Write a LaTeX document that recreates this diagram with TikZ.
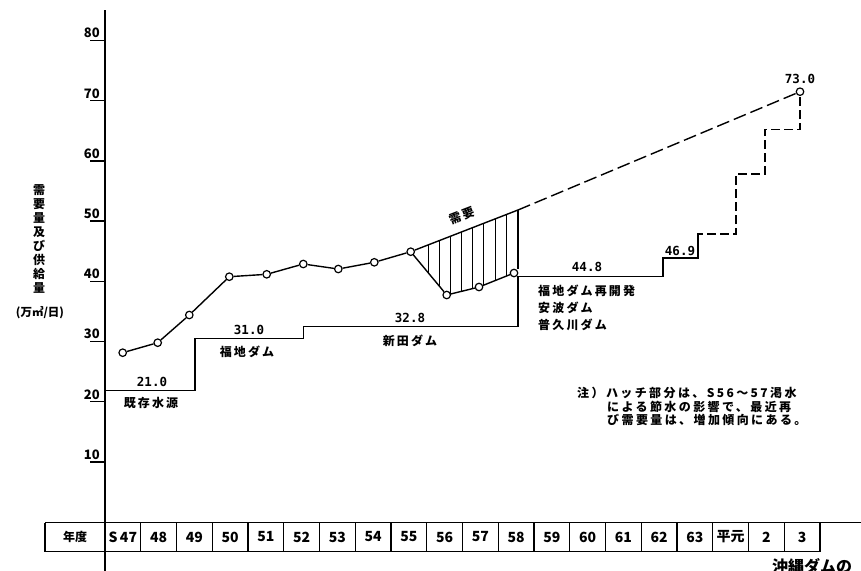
\documentclass[tikz,border=0pt]{standalone}
\usepackage{fontspec}
\setmainfont{Noto Sans CJK JP}
\newfontfamily\jp{Noto Sans CJK JP}
\newfontfamily\mono{DejaVu Sans Mono}
\begin{document}
\begin{tikzpicture}[x=1pt,y=-1pt,
  ln/.style={line width=1.4pt},
  dot/.style={circle,draw,fill=white,line width=1.2pt,inner sep=0pt,minimum size=7.5pt},
  val/.style={font=\mono\bfseries\fontsize{12.5}{13}\selectfont,inner sep=0pt},
  jlab/.style={font=\jp\bfseries\fontsize{12}{17}\selectfont\addfontfeature{LetterSpace=18},inner sep=0pt},
  note/.style={font=\jp\bfseries\fontsize{12}{13}\selectfont\addfontfeature{LetterSpace=20},inner sep=0pt,anchor=west},
  ytick/.style={font=\bfseries\fontsize{13}{13}\selectfont,inner sep=0pt,anchor=base east},
  yr/.style={font=\bfseries\fontsize{14}{14}\selectfont,inner sep=0pt},
  dstep/.style={line width=1.5pt,dash pattern=on 9pt off 4pt},
  ddem/.style={line width=1.4pt,dash pattern=on 13pt off 5pt}]
\fill[white] (0,0) rectangle (861,570);
\useasboundingbox (0,0) rectangle (861,570);

% axis and ticks
\draw[line width=2pt] (105,10) -- (105,575);
\foreach \v in {10,20,...,80}{
  \pgfmathsetmacro\yy{522-6.02*\v}
  \draw[line width=1.4pt] (90,\yy) -- (105,\yy);
  \node[ytick] (yl\v) at (100,\yy-2.5) {\v};
}

% y-axis title
\node[font=\jp\bfseries\fontsize{12}{14}\selectfont,align=center,inner sep=0pt] (ytitle) at (39,239)
  {需\\要\\量\\及\\び\\供\\給\\量};
\node[font=\jp\bfseries\fontsize{11.5}{12}\selectfont,inner sep=0pt] (yunit) at (40,313) {(万㎥/日)};

% table
\draw[line width=1.4pt] (45,522.7) -- (861,522.7);
\draw[line width=1.4pt] (45,551.7) -- (820,551.7);
\draw[line width=1.4pt] (45,522.7) -- (45,551.7);
\foreach \i in {1,...,20}{
  \pgfmathsetmacro\xx{105+35.75*\i}
  \draw[line width=1.4pt] (\xx,522.7) -- (\xx,551.7);
}
\node[font=\jp\bfseries\fontsize{12}{12}\selectfont,inner sep=0pt] (nendo) at (75,537) {年度};
\foreach \t [count=\i from 0] in {S\,47,48,49,50,51,52,53,54,55,56,57,58,59,60,61,62,63,平元,2,3}{
  \pgfmathsetmacro\xx{105+35.75*(\i+0.5)}
  \node[yr] (yr\i) at (\xx,537) {\t};
}
\node[font=\jp\bfseries\fontsize{16}{16}\selectfont,inner sep=0pt,anchor=north west] (okinawa) at (772,558) {沖縄ダムの};

% demand points
\node[dot] (d47) at (122.7,352.7) {};
\node[dot] (d48) at (157.7,342.7) {};
\node[dot] (d49) at (189.3,315) {};
\node[dot] (d50) at (229.3,276.7) {};
\node[dot] (d51) at (266.7,274.3) {};
\node[dot] (d52) at (303.3,264) {};
\node[dot] (d53) at (338.3,269) {};
\node[dot] (d54) at (374.3,262.3) {};
\node[dot] (d55) at (410.7,251.7) {};
\node[dot] (d56) at (446.7,295) {};
\node[dot] (d57) at (479,287) {};
\node[dot] (d58) at (514,273) {};
\node[dot] (d3) at (800,91.7) {};
\coordinate (ht) at (518,210);

% hatch
\begin{scope}
  \clip (d55.center) -- (ht) -- (518,273) -- (d58.center) -- (d57.center) -- (d56.center) -- cycle;
  \foreach \x in {428,439,450,461,472,483,495,506}
    \draw[line width=1pt] (\x,200) -- (\x,300);
\end{scope}
\draw[ln] (ht) -- (518,269);

% supply steps
\coordinate (s1) at (105,390.7);
\coordinate (s2) at (195,390.7);
\coordinate (s3) at (195,338.3);
\coordinate (s4) at (303.3,338.3);
\coordinate (s5) at (303.3,326.7);
\coordinate (s6) at (518,326.7);
\coordinate (s7) at (518,276.7);
\coordinate (s8) at (663,276.7);
\coordinate (s9) at (663,258);
\coordinate (s10) at (698,258);
\coordinate (s11) at (698,238);
\draw[ln] (s1) -- (s2) -- (s3) -- (s4) -- (s5) -- (s6) -- (s7) -- (s8) -- (s9) -- (s10) -- (s11);
\coordinate (f1) at (698,234);
\coordinate (f2) at (736,234);
\coordinate (f3) at (736,174);
\coordinate (f4) at (765,174);
\coordinate (f5) at (765,129.3);
\coordinate (f6) at (800,129.3);
\draw[dstep] (s11) -- (f1) -- (f2) -- (f3) -- (f4) -- (f5) -- (f6) -- (d3);

% demand line
\draw[ln] (d47) -- (d48) -- (d49) -- (d50) -- (d51) -- (d52) -- (d53) -- (d54) -- (d55);
\draw[ln] (d55) -- (d56) -- (d57) -- (d58);
\draw[ln] (d55) -- (ht);
\draw[ddem] (ht) -- (d3);

% labels
\node[val] (v21) at (152,382) {21.0};
\node[jlab] (l21) at (151,403) {既存水源};
\node[val] (v31) at (249,330) {31.0};
\node[jlab] (l31) at (247,352) {福地ダム};
\node[val] (v328) at (410,318) {32.8};
\node[jlab] (l328) at (410,341) {新田ダム};
\node[val] (v448) at (587,267) {44.8};
\node[jlab,anchor=west] (l448a) at (538,290.5) {福地ダム再開発};
\node[jlab,anchor=west] (l448b) at (538,308) {安波ダム};
\node[jlab,anchor=west] (l448c) at (538,325) {普久川ダム};
\node[val] (v469) at (680,251) {46.9};
\node[val] (v73) at (800,79) {73.0};
\node[jlab,rotate=21] (juyo) at (462,216) {需要};

% note
\node[note] (n1) at (577,393) {注）ハッチ部分は、S56～57渇水};
\node[note] (n2) at (607,407) {による節水の影響で、最近再};
\node[note] (n3) at (607,420) {び需要量は、増加傾向にある。};
\end{tikzpicture}
\end{document}
